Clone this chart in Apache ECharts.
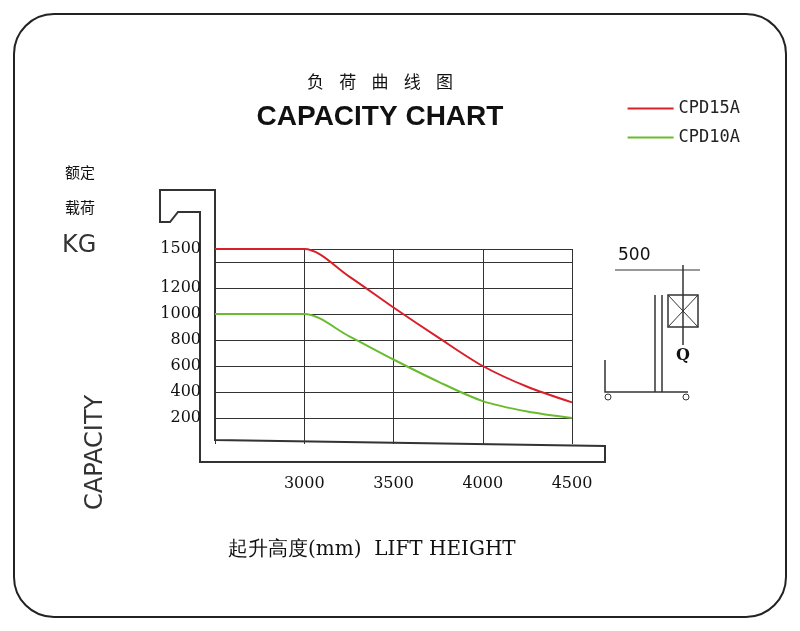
<!DOCTYPE html><html><head><meta charset="utf-8">
<script src="https://cdn.jsdelivr.net/npm/echarts@6/dist/echarts.min.js"></script>
<style>body{margin:0;background:#fff}#c{width:800px;height:631px}</style></head><body><div id="c"></div>
<script>
const heights=[2500,3000,3250,3500,3750,4000,4250,4500];
const cpd15=[1500,1500,1290,1050,820,600,440,320];
const cpd10=[1000,1000,830,650,480,330,250,200];
const yTicks=[200,400,600,800,1000,1200,1400,1500];
const xTicks=[3000,3500,4000,4500];
const ch=echarts.init(document.getElementById('c'));
const gridColors=[];for(let v=0;v<=1500;v+=100)gridColors.push(yTicks.includes(v)?'#333':'rgba(0,0,0,0)');
const serif='"DejaVu Serif","Liberation Serif",serif';
ch.setOption({
animation:false,
title:[{text:'负    荷    曲    线    图',left:375,top:68,textAlign:'center',textStyle:{fontSize:17,fontWeight:'normal',fontFamily:'"Noto Sans CJK SC"',color:'#111'}},
{text:'CAPACITY CHART',left:375,top:98,textAlign:'center',textStyle:{fontSize:28,fontWeight:'bold',fontFamily:'"Liberation Sans Narrow","Liberation Sans",Arial',color:'#111'}}],
legend:{right:55,top:95,orient:'vertical',itemWidth:46,itemHeight:2,itemGap:12,icon:'rect',textStyle:{fontSize:17,fontFamily:'"DejaVu Sans Mono",monospace',color:'#222'},data:['CPD15A','CPD10A']},
grid:{left:215,right:228,top:249,bottom:187},
xAxis:{type:'value',min:2500,max:4500,interval:500,axisLine:{show:false},axisTick:{show:false},
 axisLabel:{margin:32,fontSize:16,fontFamily:serif,color:'#111',showMaxLabel:true,formatter:v=>xTicks.includes(v)?String(v):''},
 splitLine:{show:true,lineStyle:{color:'#333',width:1}}},
yAxis:{type:'value',min:0,max:1500,interval:100,axisLine:{show:false},axisTick:{show:false},
 axisLabel:{margin:14,fontSize:16,fontFamily:serif,color:'#111',showMaxLabel:true,formatter:v=>yTicks.includes(v)?String(v):''},
 splitLine:{show:true,showMaxLine:true,lineStyle:{color:gridColors,width:1}}},
series:[
{name:'CPD15A',type:'line',smooth:0.3,symbol:'none',lineStyle:{color:'#d8202a',width:2},itemStyle:{color:'#d8202a'},data:heights.map((h,i)=>[h,cpd15[i]])},
{name:'CPD10A',type:'line',smooth:0.3,symbol:'none',lineStyle:{color:'#6abb2e',width:2},itemStyle:{color:'#6abb2e'},data:heights.map((h,i)=>[h,cpd10[i]])}],
graphic:[
{type:'rect',shape:{x:14,y:14,width:772,height:603,r:40},style:{fill:'none',stroke:'#222',lineWidth:2}},
{type:'polyline',shape:{points:[[215,250],[215,190],[160,190],[160,222],[170,222],[178,212],[200,212],[200,462],[605,462],[605,446],[215,440],[215,250]]},style:{fill:'none',stroke:'#333',lineWidth:2}},
{type:'text',style:{text:'额定',x:65,y:165,font:'15px "Noto Sans CJK SC"',fill:'#111'}},
{type:'text',style:{text:'载荷',x:65,y:200,font:'15px "Noto Sans CJK SC"',fill:'#111'}},
{type:'text',style:{text:'KG',x:62,y:234,font:'24px "DejaVu Sans"',fill:'#333'}},
{type:'text',rotation:Math.PI/2,x:84,y:510,style:{text:'CAPACITY',font:'24px "DejaVu Sans"',fill:'#333'}},
{type:'text',style:{text:'起升高度(mm)  LIFT HEIGHT',x:228,y:540,font:'20px "DejaVu Serif"',fill:'#111'}},
{type:'polyline',shape:{points:[[605,360],[605,392],[688,392]]},style:{fill:'none',stroke:'#333',lineWidth:1.5}},
{type:'polyline',shape:{points:[[655,295],[655,392]]},style:{stroke:'#333',lineWidth:1.5}},
{type:'polyline',shape:{points:[[662,295],[662,392]]},style:{stroke:'#333',lineWidth:1.5}},
{type:'rect',shape:{x:668,y:295,width:30,height:32},style:{fill:'none',stroke:'#333',lineWidth:1.5}},
{type:'polyline',shape:{points:[[668,295],[698,327]]},style:{stroke:'#333'}},
{type:'polyline',shape:{points:[[698,295],[668,327]]},style:{stroke:'#333'}},
{type:'polyline',shape:{points:[[683,265],[683,345]]},style:{stroke:'#333',lineWidth:1.5}},
{type:'polyline',shape:{points:[[615,270],[700,270]]},style:{stroke:'#333'}},
{type:'circle',shape:{cx:608,cy:397,r:3},style:{fill:'none',stroke:'#333'}},
{type:'circle',shape:{cx:686,cy:397,r:3},style:{fill:'none',stroke:'#333'}},
{type:'text',style:{text:'500',x:618,y:247,font:'17px "DejaVu Sans"',fill:'#111'}},
{type:'text',style:{text:'Q',x:676,y:348,font:'bold 16px "DejaVu Serif"',fill:'#111'}}
]});
</script></body></html>
